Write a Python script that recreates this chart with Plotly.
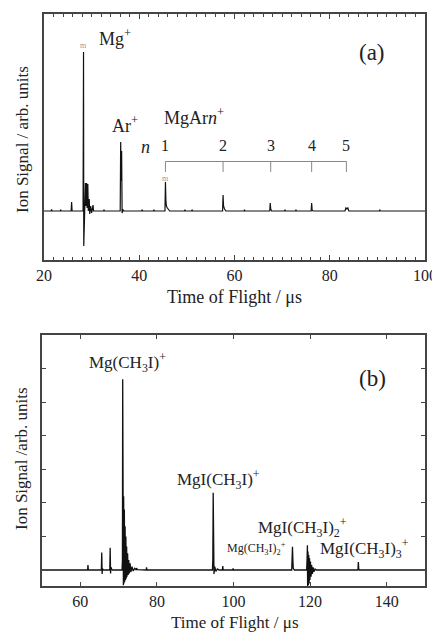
import plotly.graph_objects as go

# ---------------- data ----------------
# Panel (a): time of flight (us) and ion signal (arb. units, baseline 0)
tof_a = [20, 21.5, 21.6, 21.7, 23.4, 23.5, 23.6, 25.7, 25.8, 25.9, 28.2, 28.3, 28.35, 28.45, 28.6, 28.7, 28.8,
         28.95, 29.05, 29.2, 29.3, 29.5, 29.6, 29.8, 30.0, 30.3, 30.4, 32.5, 32.6, 32.7, 36.0, 36.1, 36.2,
         36.3, 36.4, 36.6, 36.8, 40.5, 40.6, 40.7, 43.0, 43.1, 43.2, 45.4, 45.5, 45.6, 45.7, 45.9, 46.2,
         46.4, 49.5, 49.6, 49.7, 51.0, 51.1, 51.2, 57.5, 57.6, 57.7, 57.9, 58.2, 62.0, 62.1, 62.2, 67.4,
         67.5, 67.6, 67.8, 70.5, 70.6, 70.7, 72.8, 72.9, 73.0, 76.1, 76.2, 76.3, 76.5, 83.2, 83.4, 83.6,
         83.8, 84.0, 90.4, 90.5, 90.6, 100]
sig_a = [0, 0, 0.015, 0, 0, 0.012, 0, 0, 0.09, 0, 0, 1.59, -0.35, 0.02, 0.1, 0.28, 0.05,
         0.28, 0.03, 0.27, 0.0, 0.12, -0.03, 0.05, -0.02, 0.06, 0, 0, 0.012, 0, 0, 0.69, 0.3,
         0.6, -0.02, 0.01, 0, 0, 0.012, 0, 0, 0.012, 0, 0, 0.29, 0.1, 0.05, 0.03, 0.01,
         0, 0, 0.012, 0, 0, 0.012, 0, 0, 0.16, 0.05, 0.02, 0, 0, 0.012, 0, 0,
         0.08, 0.02, 0, 0, 0.012, 0, 0, 0.012, 0, 0, 0.08, 0.01, 0, 0, 0.03, 0.02,
         0.03, 0, 0, 0.012, 0, 0]

# MgAr_n+ cluster positions (us)
cluster_n = ["1", "2", "3", "4", "5"]
cluster_t = [45.5, 57.6, 67.6, 76.2, 83.5]

# Panel (b)
tof_b = [50, 61.9, 62.0, 62.1, 65.5, 65.6, 65.7, 65.8, 65.9, 67.7, 67.8, 67.9, 68.0, 68.2, 68.4,
         70.9, 71.0, 71.07, 71.12, 71.18, 71.25, 71.32, 71.4, 71.5, 71.6, 71.7, 71.8, 71.9, 72.0,
         72.1, 72.2, 72.35, 72.5, 72.65, 72.8, 73.0, 73.2, 73.5, 73.8, 74.2, 74.6, 74.7, 74.9,
         77.2, 77.3, 77.4, 94.5, 94.6, 94.7, 94.8, 94.9, 95.1, 95.4, 95.8, 96.2, 97.1, 97.2, 97.3,
         99.8, 99.9, 100.0, 115.2, 115.3, 115.4, 115.5, 115.6, 115.9, 119.1, 119.2, 119.3, 119.35,
         119.45, 119.55, 119.65, 119.75, 119.85, 119.95, 120.1, 120.25, 120.4, 120.6, 120.8, 121.0,
         121.3, 121.6, 132.5, 132.6, 132.7, 132.9, 150]
sig_b = [0, 0, 0.15, 0, 0, 0.52, -0.12, 0.05, 0, 0, 0.66, -0.1, 0.08, 0.02, 0,
         0, 0.3, 5.68, -0.45, 3.2, -0.45, 2.2, -0.4, 1.8, -0.35, 1.3, -0.3, 1.0, -0.25,
         0.7, -0.2, 0.5, -0.15, 0.3, -0.1, 0.2, -0.06, 0.1, -0.03, 0.05, 0, 0.06, 0.01,
         0, 0.08, 0, 0, 0.3, 2.3, 0.5, -0.12, 0.1, -0.04, 0.03, 0, 0, 0.12, 0,
         0, 0.05, 0, 0, 0.4, 0.69, 0.3, 0.05, 0, 0, 0.3, 0.74, -0.48,
         0.55, -0.45, 0.45, -0.4, 0.35, -0.3, 0.25, -0.2, 0.15, -0.12, 0.08, -0.05,
         0.03, 0, 0, 0.24, 0.03, 0, 0]

ticks_a = [20, 40, 60, 80, 100]
ticks_b = [60, 80, 100, 120, 140]
yticks_b = [1, 2, 3, 4, 5, 6]

# ---------------- figure ----------------
# The page body has an 8px margin, so the figure is made 8px smaller and
# layout positions (given in window pixels) are shifted by that offset.
OFF = 8
W, H = 440 - OFF, 633 - OFF


def px(x):
    return (x - OFF) / W


def py(y):
    return 1 - (y - OFF) / H


SERIF = "Liberation Serif, Times New Roman, serif"
BLACK = "#111111"
AX = "#444444"
TXT = "#222222"

fig = go.Figure()
fig.add_trace(go.Scatter(x=tof_a, y=sig_a, mode="lines", line=dict(color=BLACK, width=1.2),
                         xaxis="x", yaxis="y", showlegend=False, hoverinfo="skip"))
fig.add_trace(go.Scatter(x=tof_b, y=sig_b, mode="lines", line=dict(color=BLACK, width=1.3),
                         xaxis="x2", yaxis="y2", showlegend=False, hoverinfo="skip"))
# invisible trace so the top tick axis of panel (a) is drawn
fig.add_trace(go.Scatter(x=[ticks_a[0]], y=[0], mode="markers", marker=dict(opacity=0),
                         xaxis="x3", yaxis="y", showlegend=False, hoverinfo="skip"))

# bracket for MgAr_n+
fig.add_trace(go.Scatter(x=[cluster_t[0], cluster_t[-1]], y=[0.495, 0.495], mode="lines",
                         line=dict(color="#888888", width=1), xaxis="x", yaxis="y",
                         showlegend=False, hoverinfo="skip"))
for t in cluster_t:
    fig.add_trace(go.Scatter(x=[t, t], y=[0.495, 0.39], mode="lines",
                             line=dict(color="#888888", width=1), xaxis="x", yaxis="y",
                             showlegend=False, hoverinfo="skip"))

ann = []


def A(x, y, text, size=17, xref="x", yref="y", xanchor="center", color=TXT, **kw):
    ann.append(dict(x=x, y=y, xref=xref, yref=yref, text=text, showarrow=False,
                    xanchor=xanchor, yanchor="middle",
                    font=dict(family=SERIF, size=size, color=color), **kw))


for n, t in zip(cluster_n, cluster_t):
    A(t, 0.66, n, 16)

# panel (a) labels
A(31.1, 1.74, "Mg<sup>+</sup>", 18, xanchor="left")
A(33.9, 0.87, "Ar<sup>+</sup>", 18, xanchor="left")
A(41.4, 0.64, "<i>n</i>", 18)
A(44.7, 0.95, "MgAr<i>n</i><sup>+</sup>", 18, xanchor="left")
A(88.9, 1.59, "(a)", 23)
A(28.3, 1.66, "m", 8, color="#999999")
A(45.5, 0.33, "m", 8, color="#999999")

# panel (b) labels
A(72.2, 6.19, "Mg(CH<sub>3</sub>I)<sup>+</sup>", 17, xref="x2", yref="y2")
A(96.2, 2.71, "MgI(CH<sub>3</sub>I)<sup>+</sup>", 17, xref="x2", yref="y2")
A(105.9, 0.63, "Mg(CH<sub>3</sub>I)<sub>2</sub><sup>+</sup>", 12, xref="x2", yref="y2")
A(117.9, 1.28, "MgI(CH<sub>3</sub>I)<sub>2</sub><sup>+</sup>", 17, xref="x2", yref="y2")
A(134.3, 0.63, "MgI(CH<sub>3</sub>I)<sub>3</sub><sup>+</sup>", 17, xref="x2", yref="y2")
A(136.2, 5.71, "(b)", 23, xref="x2", yref="y2")

# axis titles (paper coords from window pixel positions)
A(px(235), py(297), "Time of Flight / μs", 18, xref="paper", yref="paper")
A(px(235), py(622), "Time of Flight / μs", 17, xref="paper", yref="paper")
A(px(22), py(140), "Ion Signal / arb. units", 17, xref="paper", yref="paper", textangle=-90)
A(px(21), py(459), "Ion Signal /arb. units", 17, xref="paper", yref="paper", textangle=-90)

tickfont = dict(family=SERIF, size=16, color=TXT)
common = dict(showline=True, linecolor=AX, linewidth=1.5, showgrid=False, zeroline=False,
              ticks="inside", tickcolor=AX, tickfont=tickfont, fixedrange=True, automargin=False)
minor_a = dict(ticks="inside", dtick=2, tick0=20, ticklen=3, tickcolor=AX, showgrid=False)

fig.update_layout(
    template="none",
    width=W, height=H, margin=dict(l=0, r=0, t=0, b=0, pad=0), autosize=False,
    paper_bgcolor="white", plot_bgcolor="white",
    xaxis=dict(domain=[px(44), px(425)], range=[20, 100], anchor="y", tickvals=ticks_a,
               ticklen=5, tickwidth=1, mirror=True, minor=minor_a, **common),
    xaxis3=dict(overlaying="x", matches="x", anchor="y", side="top", range=[20, 100], tickvals=ticks_a,
                ticklen=5, tickwidth=1, showticklabels=False, minor=minor_a, **common),
    yaxis=dict(domain=[py(260), py(14)], range=[-0.49, 1.97], anchor="x",
               showticklabels=False, **{**common, "ticks": ""}, mirror=True),
    xaxis2=dict(domain=[px(42), px(425)], range=[50, 150], anchor="y2", tickvals=ticks_b,
                ticklen=4, tickwidth=1, mirror="ticks", **common),
    yaxis2=dict(domain=[py(586), py(335)], range=[-0.476, 7.0], anchor="x2",
                tickvals=yticks_b, ticklen=4, tickwidth=1, showticklabels=False, mirror="ticks",
                **common),
    annotations=ann,
)

fig.write_html("out.html")
